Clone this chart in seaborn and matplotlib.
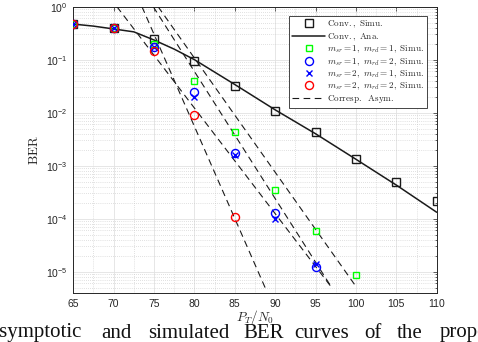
import matplotlib
matplotlib.use("Agg")
import matplotlib.pyplot as plt
import seaborn as sns
import pandas as pd
from matplotlib.ticker import FixedLocator, NullFormatter, LogLocator, LogFormatterSciNotation

# ---------------- data ----------------
snr = [65, 70, 75, 80, 85, 90, 95, 100, 105, 110]
conv_simu = [0.47, 0.39, 0.243, 0.096, 0.032, 0.0108, 0.0043, 0.00134, 5.0e-4, 2.2e-4]

ana_snr = [65, 67.5, 70, 72.5, 75, 77.5, 80, 85, 90, 95, 100, 105, 110]
conv_ana = [0.47, 0.43, 0.38, 0.335, 0.235, 0.158, 0.10, 0.034, 0.0113, 0.0040, 0.00132, 4.3e-4, 1.32e-4]

snr_m11 = [65, 70, 75, 80, 85, 90, 95, 100]
ber_m11 = [0.47, 0.39, 0.20, 0.040, 0.0044, 3.5e-4, 5.9e-5, 8.7e-6]
snr_m12 = [65, 70, 75, 80, 85, 90, 95]
ber_m12 = [0.47, 0.39, 0.176, 0.0243, 1.7e-3, 1.26e-4, 1.24e-5]
snr_m21 = [65, 70, 75, 80, 85, 90, 95]
ber_m21 = [0.47, 0.39, 0.17, 0.020, 1.6e-3, 1.0e-4, 1.4e-5]
snr_m22 = [65, 70, 75, 80, 85]
ber_m22 = [0.47, 0.39, 0.148, 0.0091, 1.06e-4]

asym_ber = [1.0, 5e-6]
asym_snr_m11 = [75.5, 100.1]
asym_snr_m12 = [70.4, 97.0]
asym_snr_m21 = [74.9, 97.0]
asym_snr_m22 = [73.5, 88.75]

xticks = [65, 70, 75, 80, 85, 90, 95, 100, 105, 110]

caption_words = ["Asymptotic", "and", "simulated", "BER", "curves", "of", "the", "proposed"]

# ---------------- style ----------------
sns.set_theme(style="white")
plt.rcParams["font.family"] = ["Liberation Sans", "DejaVu Sans"]
plt.rcParams["mathtext.fontset"] = "cm"

W, H = 478, 342
fig = plt.figure(figsize=(W / 100, H / 100), dpi=100)
L, R, T, B = 73.3, 436.7, 6.7, 293.3
ax = fig.add_axes([L / W, 1 - B / H, (R - L) / W, (B - T) / H])

dash = (0, (6, 4))
ax.set_yscale("log")

sq, sq_g, circ, xm, mew = 5.2, 4.6, 5.8, 4.6, 1.0
sns.lineplot(x=snr, y=conv_simu, ax=ax, marker="s", linestyle="", color="k",
             markerfacecolor="none", markeredgecolor="k", markersize=sq,
             markeredgewidth=mew, label=r"$\mathrm{Conv.,\ Simu.}$", zorder=5)
sns.lineplot(x=ana_snr, y=conv_ana, ax=ax, color="k", linewidth=1.1,
             label=r"$\mathrm{Conv.,\ Ana.}$", zorder=4)
sns.lineplot(x=snr_m11, y=ber_m11, ax=ax, marker="s", linestyle="", color="#00ff00",
             markerfacecolor="none", markeredgecolor="#00ff00", markersize=sq_g,
             markeredgewidth=mew, label=r"$m_{sr}\mathrm{=1,}\ m_{rd}\mathrm{=1,\ Simu.}$", zorder=5)
sns.lineplot(x=snr_m12, y=ber_m12, ax=ax, marker="o", linestyle="", color="#0000ff",
             markerfacecolor="none", markeredgecolor="#0000ff", markersize=circ,
             markeredgewidth=mew, label=r"$m_{sr}\mathrm{=1,}\ m_{rd}\mathrm{=2,\ Simu.}$", zorder=5)
sns.lineplot(x=snr_m21, y=ber_m21, ax=ax, marker="x", linestyle="", color="#0000ff",
             markeredgecolor="#0000ff", markersize=xm,
             markeredgewidth=mew, label=r"$m_{sr}\mathrm{=2,}\ m_{rd}\mathrm{=1,\ Simu.}$", zorder=5)
sns.lineplot(x=snr_m22, y=ber_m22, ax=ax, marker="o", linestyle="", color="#ff0000",
             markerfacecolor="none", markeredgecolor="#ff0000", markersize=circ,
             markeredgewidth=mew, label=r"$m_{sr}\mathrm{=2,}\ m_{rd}\mathrm{=2,\ Simu.}$", zorder=5)
sns.lineplot(x=asym_snr_m11, y=asym_ber, ax=ax, color="k", linewidth=0.8, linestyle=dash,
             label=r"$\mathrm{Corresp.\ \ Asym.}$", zorder=3)
for xs in (asym_snr_m12, asym_snr_m21, asym_snr_m22):
    sns.lineplot(x=xs, y=asym_ber, ax=ax, color="k", linewidth=0.8, linestyle=dash, zorder=3)

ax.set_xlim(65, 110)
ax.set_ylim(3.9e-6, 1)
ax.xaxis.set_major_locator(FixedLocator(xticks))
ax.xaxis.set_minor_locator(FixedLocator([x + 2.5 for x in xticks[:-1]]))
ax.yaxis.set_major_locator(LogLocator(base=10, numticks=20))
ax.yaxis.set_major_formatter(LogFormatterSciNotation())
ax.yaxis.set_minor_locator(LogLocator(base=10, subs=range(2, 10), numticks=20))
ax.yaxis.set_minor_formatter(NullFormatter())

ax.grid(True, which="major", color="#e2e2e2", linewidth=0.6)
ax.grid(True, which="minor", color="#c4c4c4", linewidth=0.5, linestyle=(0, (1, 2)))
ax.set_axisbelow(True)

ax.tick_params(which="both", direction="in", top=True, right=True, colors="#262626",
               labelsize=7.5, width=0.5)
ax.tick_params(which="major", length=3, pad=4)
ax.tick_params(which="minor", length=1.5)
ax.tick_params(axis="x", which="minor", length=0)
for s in ax.spines.values():
    s.set_color("#262626")
    s.set_linewidth(0.7)

ax.set_xlabel(r"$P_T/N_0$", fontsize=9.5, color="#262626")
ax.set_ylabel(r"$\mathrm{BER}$", fontsize=9.5, color="#262626")
ax.xaxis.set_label_coords(0.5, -(308 - B) / (B - T))
ax.yaxis.set_label_coords(-(L - 41) / (R - L), 0.5)

leg = ax.legend(loc="upper right", bbox_to_anchor=(1 - 10 / (R - L), 1 - 9.3 / (B - T)),
                borderaxespad=0, fontsize=6.6, labelspacing=0.1, handlelength=3.6,
                handletextpad=0.2, borderpad=0.3, fancybox=False, framealpha=1,
                edgecolor="#262626")
leg.get_frame().set_linewidth(0.6)

# cropped caption from the paper below the figure
word_x = [82, 101, 148, 243, 294, 364, 397, 440]
for i, (w, xw) in enumerate(zip(caption_words, word_x)):
    fig.text(xw / W, 1 - 337.5 / H, w, ha="right" if i == 0 else "left", va="baseline",
             fontsize=15, family=["Liberation Serif", "DejaVu Serif"], color="#111111")

fig.savefig("out.png", dpi=100)
